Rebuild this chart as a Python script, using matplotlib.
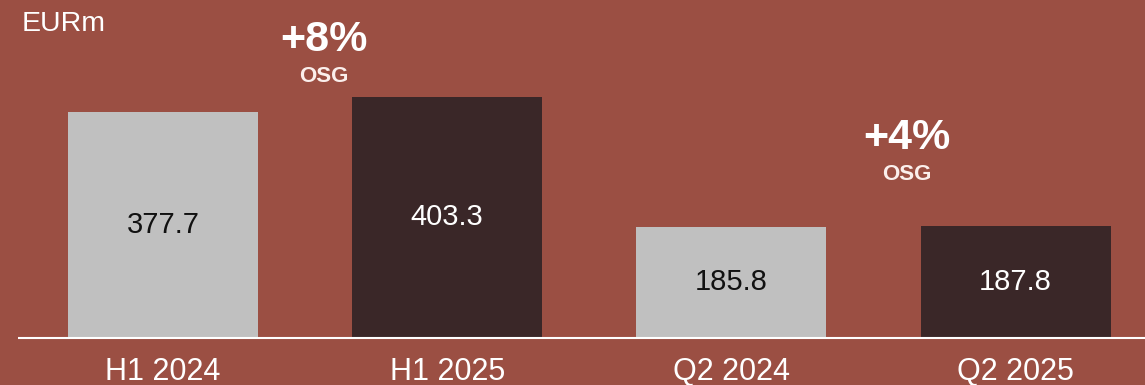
import matplotlib
matplotlib.use("Agg")
import matplotlib.pyplot as plt

categories = ["H1 2024", "H1 2025", "Q2 2024", "Q2 2025"]
values = [377.7, 403.3, 185.8, 187.8]
value_labels = ["377.7", "403.3", "185.8", "187.8"]
growth_labels = ["+8%", "+4%"]
growth_sub = ["OSG", "OSG"]

BG = "#9B4F43"
LIGHT = "#C0C0C0"
DARK = "#3A2728"
bar_colors = [LIGHT, DARK, LIGHT, DARK]
text_colors = ["#111111", "#FFFFFF", "#111111", "#FFFFFF"]

plt.rcParams["font.family"] = ["Liberation Sans", "DejaVu Sans"]

W, H = 1145, 385
fig = plt.figure(figsize=(W / 100, H / 100), dpi=100, facecolor=BG)
ax = fig.add_axes([0, 0, 1, 1])
ax.set_facecolor(BG)

spacing = 284.2
x0 = 163
xlim = (-x0 / spacing, (W - x0) / spacing)
scale = 0.598
base = 47
ylim = (-base / scale, (H - base) / scale)

xs = list(range(len(categories)))
ax.bar(xs, values, width=190 / spacing, color=bar_colors, zorder=2)
ax.set_xlim(*xlim)
ax.set_ylim(*ylim)
ax.axis("off")

# baseline
ax.plot([xlim[0] + 18 / spacing, xlim[1]], [0, 0], color="white", lw=1.5, zorder=3,
        solid_capstyle="butt")

for x, v, lab, tc in zip(xs, values, value_labels, text_colors):
    ax.text(x, v / 2, lab, ha="center", va="center", fontsize=21, color=tc, zorder=4)

for x, c in zip(xs, categories):
    ax.text(x, -57, c, ha="center", va="center", fontsize=22, color="white")

# growth annotations
gpos = [(0.567, 498), (2.618, 334)]
for (gx, gy), gl, gs in zip(gpos, growth_labels, growth_sub):
    ax.text(gx, gy, gl, ha="center", va="center", fontsize=31, fontweight="bold", color="white")
    ax.text(gx, gy - 60, gs, ha="center", va="center", fontsize=16, fontweight="bold",
            color="#FBEFEC")

fig.text(22 / W, 1 - 24 / H, "EURm", ha="left", va="center", fontsize=20.5, color="white")

fig.savefig("out.png", dpi=100, facecolor=BG)
